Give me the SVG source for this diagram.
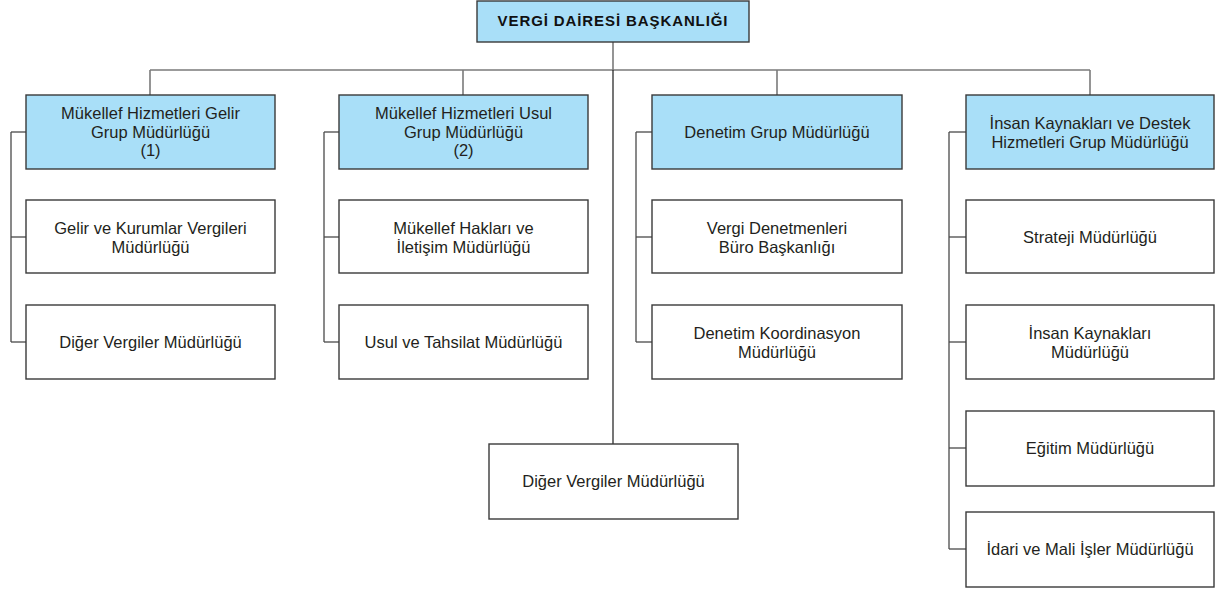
<svg xmlns="http://www.w3.org/2000/svg" width="1215" height="590" viewBox="0 0 1215 590">
<style>
.bg{fill:#ffffff}
.head rect{fill:#a9dff8;stroke:#3a3a3a;stroke-width:1.4}
.unit rect{fill:#ffffff;stroke:#3a3a3a;stroke-width:1.4}
text{font-family:"Liberation Sans",Arial,sans-serif;font-size:16.5px;fill:#231f20;text-anchor:middle}
.title{font-weight:bold;font-size:15px;letter-spacing:0.9px;fill:#111111}
.conn line{stroke:#4a4a4a;stroke-width:1.3;fill:none}
.conn .top{stroke:#7a7a7a;stroke-width:1.6}
.conn .main{stroke:#1a1a1a;stroke-width:1.2}
</style>
<rect class="bg" x="0" y="0" width="1215" height="590"/>
<g id="connectors" class="conn">
  <line class="top" x1="613" y1="42" x2="613" y2="70"/>
  <line class="top" x1="150" y1="70" x2="1090" y2="70"/>
  <line class="top" x1="150" y1="70" x2="150" y2="95"/>
  <line class="top" x1="463" y1="70" x2="463" y2="95"/>
  <line class="top" x1="777" y1="70" x2="777" y2="95"/>
  <line class="top" x1="1090" y1="70" x2="1090" y2="95"/>
  <line class="main" x1="613" y1="70" x2="613" y2="444"/>
  <line x1="11" y1="132" x2="11" y2="342"/>
  <line x1="11" y1="132" x2="26" y2="132"/>
  <line x1="11" y1="237" x2="26" y2="237"/>
  <line x1="11" y1="342" x2="26" y2="342"/>
  <line x1="324" y1="132" x2="324" y2="342"/>
  <line x1="324" y1="132" x2="339" y2="132"/>
  <line x1="324" y1="237" x2="339" y2="237"/>
  <line x1="324" y1="342" x2="339" y2="342"/>
  <line x1="636" y1="132" x2="636" y2="342"/>
  <line x1="636" y1="132" x2="652" y2="132"/>
  <line x1="636" y1="237" x2="652" y2="237"/>
  <line x1="636" y1="342" x2="652" y2="342"/>
  <line x1="949" y1="132" x2="949" y2="549"/>
  <line x1="949" y1="132" x2="966" y2="132"/>
  <line x1="949" y1="237" x2="966" y2="237"/>
  <line x1="949" y1="342" x2="966" y2="342"/>
  <line x1="949" y1="448" x2="966" y2="448"/>
  <line x1="949" y1="549" x2="966" y2="549"/>
</g>
<g id="baskanlik" class="head">
  <rect x="477" y="1" width="272" height="41"/>
  <text class="title" x="613" y="26">VERGİ DAİRESİ BAŞKANLIĞI</text>
</g>
<g id="grup-gelir" class="head">
  <rect x="26" y="95" width="249" height="74"/>
  <text x="150.5" y="119">Mükellef Hizmetleri Gelir</text>
  <text x="150.5" y="137.5">Grup Müdürlüğü</text>
  <text x="150.5" y="156">(1)</text>
</g>
<g id="grup-usul" class="head">
  <rect x="339" y="95" width="249" height="74"/>
  <text x="463.5" y="119">Mükellef Hizmetleri Usul</text>
  <text x="463.5" y="137.5">Grup Müdürlüğü</text>
  <text x="463.5" y="156">(2)</text>
</g>
<g id="grup-denetim" class="head">
  <rect x="652" y="95" width="250" height="74"/>
  <text x="777" y="138">Denetim Grup Müdürlüğü</text>
</g>
<g id="grup-ik" class="head">
  <rect x="966" y="95" width="248" height="74"/>
  <text x="1090" y="129">İnsan Kaynakları ve Destek</text>
  <text x="1090" y="147.5">Hizmetleri Grup Müdürlüğü</text>
</g>
<g id="gelir-kurumlar" class="unit">
  <rect x="26" y="200" width="249" height="73"/>
  <text x="150.5" y="234">Gelir ve Kurumlar Vergileri</text>
  <text x="150.5" y="252.5">Müdürlüğü</text>
</g>
<g id="diger-vergiler-1" class="unit">
  <rect x="26" y="305" width="249" height="74"/>
  <text x="150.5" y="348">Diğer Vergiler Müdürlüğü</text>
</g>
<g id="mukellef-haklari" class="unit">
  <rect x="339" y="200" width="249" height="73"/>
  <text x="463.5" y="234">Mükellef Hakları ve</text>
  <text x="463.5" y="252.5">İletişim Müdürlüğü</text>
</g>
<g id="usul-tahsilat" class="unit">
  <rect x="339" y="305" width="249" height="74"/>
  <text x="463.5" y="348">Usul ve Tahsilat Müdürlüğü</text>
</g>
<g id="vergi-denetmenleri" class="unit">
  <rect x="652" y="200" width="250" height="73"/>
  <text x="777" y="234">Vergi Denetmenleri</text>
  <text x="777" y="252.5">Büro Başkanlığı</text>
</g>
<g id="denetim-koordinasyon" class="unit">
  <rect x="652" y="305" width="250" height="74"/>
  <text x="777" y="339">Denetim Koordinasyon</text>
  <text x="777" y="357.5">Müdürlüğü</text>
</g>
<g id="strateji" class="unit">
  <rect x="966" y="200" width="248" height="73"/>
  <text x="1090" y="243">Strateji Müdürlüğü</text>
</g>
<g id="insan-kaynaklari" class="unit">
  <rect x="966" y="305" width="248" height="74"/>
  <text x="1090" y="339">İnsan Kaynakları</text>
  <text x="1090" y="357.5">Müdürlüğü</text>
</g>
<g id="egitim" class="unit">
  <rect x="966" y="411" width="248" height="75"/>
  <text x="1090" y="454">Eğitim Müdürlüğü</text>
</g>
<g id="idari-mali" class="unit">
  <rect x="966" y="512" width="248" height="75"/>
  <text x="1090" y="555">İdari ve Mali İşler Müdürlüğü</text>
</g>
<g id="diger-vergiler-2" class="unit">
  <rect x="489" y="444" width="249" height="75"/>
  <text x="613.5" y="487">Diğer Vergiler Müdürlüğü</text>
</g>
</svg>
